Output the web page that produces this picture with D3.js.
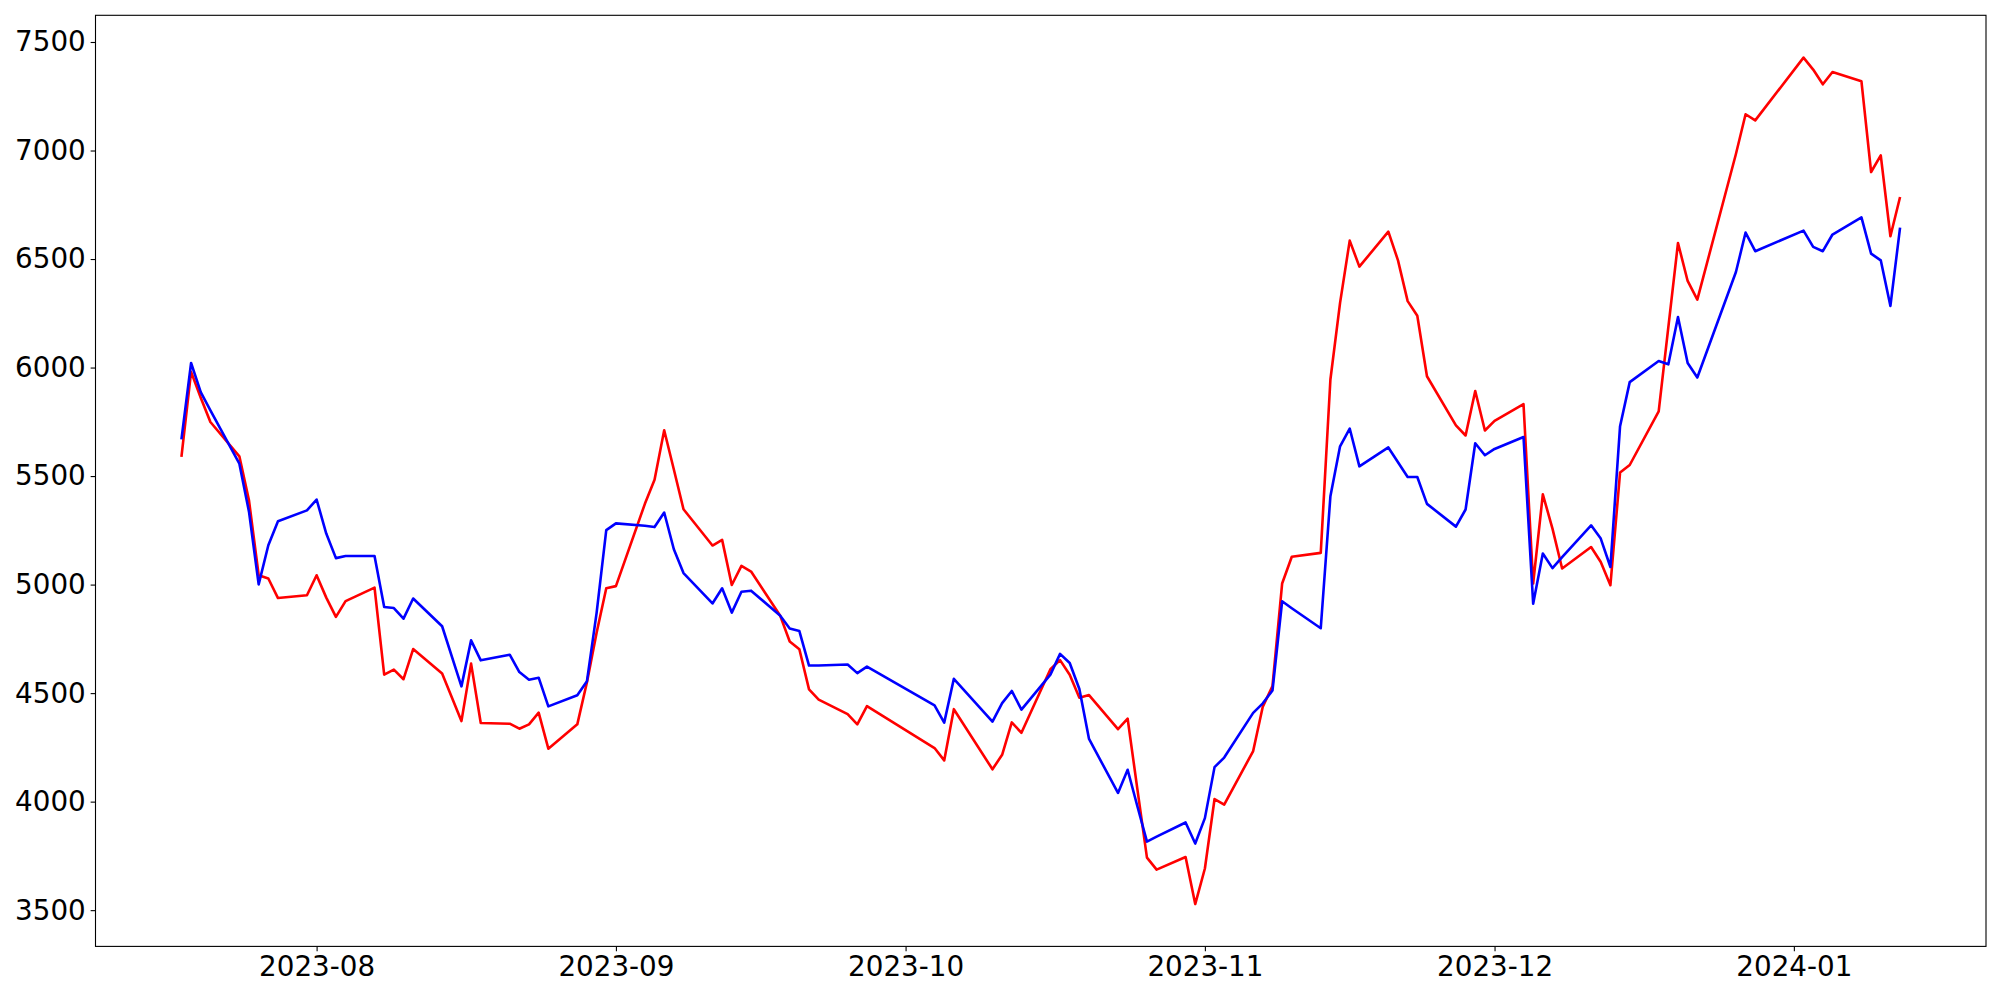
<!DOCTYPE html>
<html>
<head>
<meta charset="utf-8">
<script src="https://cdn.jsdelivr.net/npm/d3@7"></script>
<style>
body { margin: 0; background: #fff; }
.axis text { font-family: "DejaVu Sans", sans-serif; font-size: 27.78px; fill: #000; }
.axis line { stroke: #000; stroke-width: 1.1px; }
.line { fill: none; stroke-width: 2.6px; stroke-linejoin: round; }
</style>
</head>
<body>
<div id="chart-area"></div>
<script>

// Trading days (KRX calendar)
var dates = [
	"2023-07-18","2023-07-19","2023-07-20","2023-07-21","2023-07-24","2023-07-25","2023-07-26","2023-07-27","2023-07-28","2023-07-31",
	"2023-08-01","2023-08-02","2023-08-03","2023-08-04","2023-08-07","2023-08-08","2023-08-09","2023-08-10","2023-08-11","2023-08-14",
	"2023-08-16","2023-08-17","2023-08-18","2023-08-21","2023-08-22","2023-08-23","2023-08-24","2023-08-25","2023-08-28","2023-08-29",
	"2023-08-30","2023-08-31",
	"2023-09-01","2023-09-04","2023-09-05","2023-09-06","2023-09-07","2023-09-08","2023-09-11","2023-09-12","2023-09-13","2023-09-14",
	"2023-09-15","2023-09-18","2023-09-19","2023-09-20","2023-09-21","2023-09-22","2023-09-25","2023-09-26","2023-09-27",
	"2023-10-04","2023-10-05","2023-10-06","2023-10-10","2023-10-11","2023-10-12","2023-10-13","2023-10-16","2023-10-17","2023-10-18",
	"2023-10-19","2023-10-20","2023-10-23","2023-10-24","2023-10-25","2023-10-26","2023-10-27","2023-10-30","2023-10-31",
	"2023-11-01","2023-11-02","2023-11-03","2023-11-06","2023-11-07","2023-11-08","2023-11-09","2023-11-10","2023-11-13","2023-11-14",
	"2023-11-15","2023-11-16","2023-11-17","2023-11-20","2023-11-21","2023-11-22","2023-11-23","2023-11-24","2023-11-27","2023-11-28",
	"2023-11-29","2023-11-30",
	"2023-12-01","2023-12-04","2023-12-05","2023-12-06","2023-12-07","2023-12-08","2023-12-11","2023-12-12","2023-12-13","2023-12-14",
	"2023-12-15","2023-12-18","2023-12-19","2023-12-20","2023-12-21","2023-12-22","2023-12-26","2023-12-27","2023-12-28",
	"2024-01-02","2024-01-03","2024-01-04","2024-01-05","2024-01-08","2024-01-09","2024-01-10","2024-01-11","2024-01-12"
];

// Red series
var redValues = [
	5588, 5980, 5861, 5749, 5591, 5387, 5043, 5028, 4938, 4951,
	5043, 4940, 4851, 4924, 4986, 4585, 4608, 4564, 4703, 4590, 4371, 4636, 4362, 4359, 4336, 4356, 4410, 4244, 4356, 4550, 4778, 4983,
	4993, 5372, 5483, 5711, 5530, 5347, 5180, 5206, 4998, 5086, 5060, 4858, 4738, 4702, 4517, 4470, 4403, 4356, 4440,
	4247, 4190, 4426, 4149, 4216, 4365, 4317, 4610, 4652, 4585, 4479, 4491, 4334, 4382, 4060, 3742, 3687, 3745, 3528,
	3692, 4012, 3986, 4233, 4438, 4532, 5005, 5128, 5146, 5945, 6298, 6585, 6465, 6626, 6494, 6306, 6239, 5960, 5734, 5687, 5892, 5710,
	5754, 5831, 5005, 5416, 5258, 5074, 5173, 5104, 4997, 5516, 5551, 5798, 6186, 6574, 6399, 6313, 6984, 7167, 7139,
	7428, 7373, 7305, 7362, 7319, 6901, 6978, 6605, 6786
];

// Blue series
var blueValues = [
	5669, 6021, 5887, 5803, 5557, 5335, 5001, 5181, 5292, 5342,
	5392, 5235, 5122, 5132, 5132, 4897, 4892, 4843, 4936, 4808, 4531, 4743, 4651, 4677, 4597, 4562, 4571, 4439, 4490, 4555, 4870, 5251,
	5282, 5271, 5265, 5332, 5163, 5053, 4913, 4983, 4871, 4967, 4972, 4858, 4798, 4786, 4627, 4627, 4632, 4592, 4622,
	4444, 4364, 4566, 4369, 4454, 4510, 4424, 4585, 4681, 4639, 4519, 4289, 4040, 4147, 3980, 3816, 3839, 3904, 3807,
	3924, 4159, 4203, 4409, 4453, 4512, 4923, 4891, 4799, 5407, 5637, 5719, 5545, 5632, 5564, 5496, 5496, 5372, 5267, 5346, 5651, 5596,
	5625, 5680, 4912, 5143, 5076, 5127, 5273, 5212, 5081, 5730, 5933, 6030, 6015, 6233, 6021, 5954, 6440, 6622, 6536,
	6631, 6556, 6536, 6613, 6692, 6525, 6494, 6284, 6645
];

var yTicks = [3500, 4000, 4500, 5000, 5500, 6000, 6500, 7000, 7500];


// SVG drawing area
var margin = {top: 15.3, right: 14, bottom: 53.6, left: 95.5};

var width = 2000 - margin.left - margin.right,
	height = 1000 - margin.top - margin.bottom;

var svg = d3.select("#chart-area").append("svg")
	.attr("width", width + margin.left + margin.right)
	.attr("height", height + margin.top + margin.bottom)
  .append("g")
	.attr("transform", "translate(" + margin.left + "," + margin.top + ")");

var parseDate = d3.timeParse("%Y-%m-%d");
var formatMonth = d3.timeFormat("%Y-%m");

var data = dates.map(function(d, i) {
	return {date: parseDate(d), red: redValues[i], blue: blueValues[i]};
});

// Scales, padded 5% each side like matplotlib
var xExtent = d3.extent(data, function(d) { return d.date; });
var xPad = (xExtent[1] - xExtent[0]) * 0.05;
var x = d3.scaleTime()
	.domain([new Date(+xExtent[0] - xPad), new Date(+xExtent[1] + xPad)])
	.range([0, width]);

var yMin = d3.min(redValues.concat(blueValues));
var yMax = d3.max(redValues.concat(blueValues));
var yPad = (yMax - yMin) * 0.05;
var y = d3.scaleLinear()
	.domain([yMin - yPad, yMax + yPad])
	.range([height, 0]);

// Axes
var xAxis = d3.axisBottom(x)
	.ticks(d3.timeMonth.every(1))
	.tickFormat(formatMonth)
	.tickSize(4.86)
	.tickSizeOuter(0)
	.tickPadding(4.86);

var yAxis = d3.axisLeft(y)
	.tickValues(yTicks)
	.tickFormat(d3.format("d"))
	.tickSize(4.86)
	.tickSizeOuter(0)
	.tickPadding(4.86);

svg.append("g")
	.attr("class", "axis x-axis")
	.attr("transform", "translate(0," + height + ")")
	.call(xAxis);

svg.append("g")
	.attr("class", "axis y-axis")
	.call(yAxis);

svg.selectAll(".axis .domain").remove();

// Lines
var redLine = d3.line()
	.x(function(d) { return x(d.date); })
	.y(function(d) { return y(d.red); });

var blueLine = d3.line()
	.x(function(d) { return x(d.date); })
	.y(function(d) { return y(d.blue); });

svg.append("path")
	.attr("class", "line")
	.attr("stroke", "#ff0000")
	.attr("d", redLine(data));

svg.append("path")
	.attr("class", "line")
	.attr("stroke", "#0000ff")
	.attr("d", blueLine(data));

// Frame
svg.append("rect")
	.attr("width", width)
	.attr("height", height)
	.attr("fill", "none")
	.attr("stroke", "#000")
	.attr("stroke-width", 1.1);

</script>
</body>
</html>
